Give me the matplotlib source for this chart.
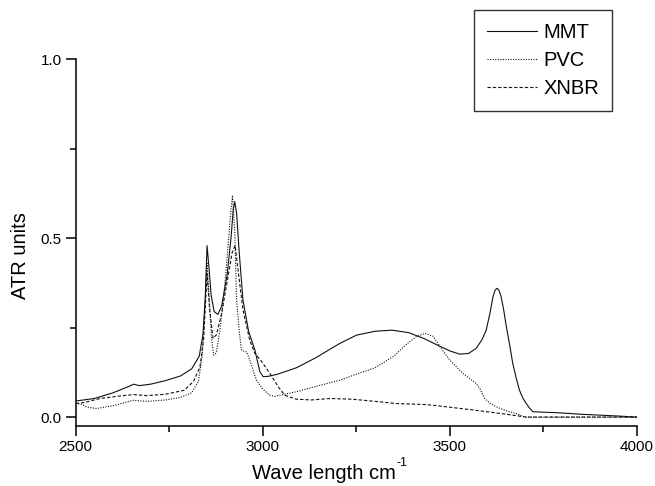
import matplotlib.pyplot as plt
from matplotlib.ticker import MultipleLocator

plt.rcParams['font.family'] = ['Liberation Sans', 'DejaVu Sans']

# MMT (solid)
mmt_x = [2500, 2550, 2600, 2640, 2655, 2670, 2700, 2740, 2780, 2810, 2830, 2840,
         2846, 2851, 2856, 2862, 2870, 2880, 2890, 2905, 2915, 2921, 2925, 2930,
         2937, 2947, 2962, 2979, 2992, 3001, 3015, 3040, 3090, 3140, 3180, 3206,
         3250, 3300, 3345, 3390, 3430, 3473, 3500, 3526, 3550, 3570, 3585, 3597,
         3607, 3615, 3621, 3626, 3631, 3637, 3644, 3651, 3660, 3668, 3677, 3686,
         3695, 3704, 3713, 3722, 3793, 3850, 3950, 4000]
mmt_y = [0.045, 0.052, 0.068, 0.085, 0.092, 0.088, 0.092, 0.102, 0.115, 0.135, 0.17, 0.23,
         0.33, 0.479, 0.42, 0.34, 0.295, 0.287, 0.31, 0.40, 0.50, 0.58, 0.602, 0.57,
         0.46, 0.327, 0.24, 0.187, 0.127, 0.113, 0.114, 0.12, 0.138, 0.165, 0.19, 0.206,
         0.229, 0.24, 0.243, 0.236, 0.22, 0.198, 0.185, 0.176, 0.178, 0.192, 0.215, 0.243,
         0.29, 0.336, 0.355, 0.36, 0.355, 0.336, 0.298, 0.252, 0.2, 0.15, 0.11, 0.075,
         0.053, 0.038, 0.025, 0.015, 0.012, 0.008, 0.003, 0.0]

# PVC (dotted)
pvc_x = [2500, 2515, 2530, 2556, 2600, 2654, 2690, 2740, 2780, 2810, 2828, 2838,
         2845, 2851, 2857, 2863, 2869, 2876, 2885, 2895, 2905, 2914, 2919, 2925,
         2930, 2937, 2943, 2950, 2957, 2965, 2983, 3000, 3019, 3032, 3050, 3090,
         3150, 3206, 3250, 3300, 3350, 3380, 3410, 3433, 3455, 3473, 3500, 3535,
         3570, 3580, 3593, 3608, 3624, 3650, 3677, 3700, 3800, 4000]
pvc_y = [0.038, 0.036, 0.028, 0.024, 0.032, 0.047, 0.044, 0.048, 0.055, 0.068, 0.10, 0.17,
         0.30, 0.43, 0.33, 0.22, 0.173, 0.18, 0.24, 0.33, 0.45, 0.57, 0.62, 0.52,
         0.327, 0.24, 0.187, 0.184, 0.182, 0.16, 0.103, 0.078, 0.061, 0.058, 0.062, 0.071,
         0.088, 0.103, 0.12, 0.138, 0.17, 0.20, 0.225, 0.234, 0.226, 0.198, 0.159, 0.122,
         0.094, 0.08, 0.052, 0.038, 0.029, 0.018, 0.01, 0.0, 0.0, 0.0]

# XNBR (dashed)
xnbr_x = [2500, 2520, 2565, 2610, 2654, 2690, 2740, 2790, 2815, 2832, 2842, 2851,
          2858, 2867, 2876, 2890, 2905, 2918, 2926, 2934, 2947, 2965, 2979, 2997,
          3019, 3041, 3059, 3090, 3130, 3180, 3240, 3300, 3357, 3437, 3473, 3562,
          3651, 3704, 4000]
xnbr_y = [0.038, 0.04, 0.052, 0.058, 0.063, 0.06, 0.064, 0.075, 0.10, 0.14, 0.22, 0.40,
          0.30, 0.22, 0.23, 0.29, 0.38, 0.46, 0.48, 0.41, 0.30, 0.215, 0.178, 0.155,
          0.122, 0.085, 0.061, 0.05, 0.048, 0.052, 0.05, 0.044, 0.038, 0.035, 0.031, 0.02,
          0.008, 0.0, 0.0]

fig = plt.figure(figsize=(6.55, 4.86), dpi=100)
ax = fig.add_axes([75.7 / 655, 1 - 425.7 / 486, (637 - 75.7) / 655, (425.7 - 59.3) / 486])

ax.plot(mmt_x, mmt_y, color='#111111', lw=0.8, label='MMT')
ax.plot(pvc_x, pvc_y, color='#111111', lw=0.8, ls=(0, (1, 1.3)), label='PVC')
ax.plot(xnbr_x, xnbr_y, color='#111111', lw=0.8, ls=(0, (3, 1.8)), label='XNBR')

ax.set_xlim(2500, 4000)
ax.set_ylim(-0.024, 1.0)
ax.xaxis.set_major_locator(MultipleLocator(500))
ax.xaxis.set_minor_locator(MultipleLocator(250))
ax.yaxis.set_major_locator(MultipleLocator(0.5))
ax.yaxis.set_minor_locator(MultipleLocator(0.25))

for s in ['top', 'right']:
    ax.spines[s].set_visible(False)
for s in ['left', 'bottom']:
    ax.spines[s].set_linewidth(1.1)

ax.tick_params(which='major', direction='out', length=7, width=1.1, labelsize=11, pad=3)
ax.tick_params(which='minor', direction='out', length=4, width=1.1)

fig.text(20 / 655, 1 - 256 / 486, 'ATR units', rotation=90, fontsize=14.5,
         ha='center', va='center')
xl = fig.text(252 / 655, 1 - 479 / 486, 'Wave length cm', fontsize=14.5,
              ha='left', va='baseline')
fig.canvas.draw()
bb = xl.get_window_extent()
fig.text(bb.x1 / 655 + 1 / 655, 1 - 466 / 486, '-1', fontsize=9,
         ha='left', va='baseline')

leg = fig.legend(loc='upper left', bbox_to_anchor=(474 / 655, 1 - 10 / 486),
                 borderaxespad=0, fancybox=False, edgecolor='black', fontsize=14.5,
                 handlelength=2.5, handletextpad=0.3, labelspacing=0.45, borderpad=0.65)
leg.get_frame().set_linewidth(1.0)

fig.savefig('out.png', dpi=100)
